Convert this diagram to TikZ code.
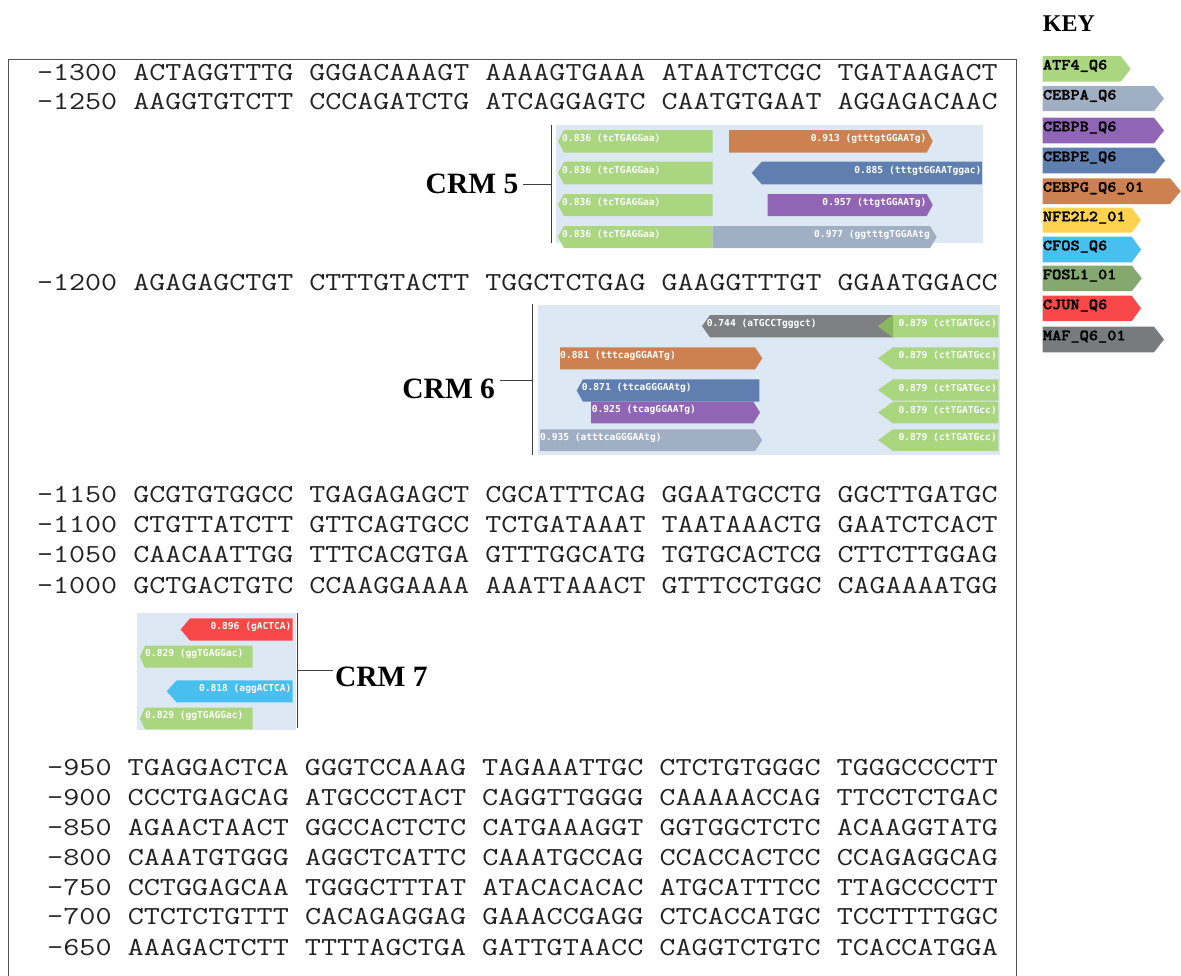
\documentclass[tikz,border=0pt]{standalone}
\usepackage{fontspec}
\usepackage{graphicx}
\newfontfamily\crmfont{Liberation Serif}
\newfontfamily\hitfont{DejaVu Sans Mono}
\newfontfamily\keyfont{lmmonolt10-bold}[Extension=.otf, FakeBold=1.5]

\definecolor{atf}{HTML}{A9D67E}
\definecolor{atfdark}{HTML}{89B75E}
\definecolor{cebpa}{HTML}{A0AFC4}
\definecolor{cebpb}{HTML}{9065B5}
\definecolor{cebpe}{HTML}{5F7FB0}
\definecolor{cebpg}{HTML}{CD8150}
\definecolor{nfe}{HTML}{FFD24F}
\definecolor{cfos}{HTML}{47C0F0}
\definecolor{fosl}{HTML}{84A86F}
\definecolor{cjun}{HTML}{F94848}
\definecolor{maf}{HTML}{7F8084}
\definecolor{crmbg}{HTML}{DDE8F5}
\definecolor{seqcol}{HTML}{222222}
\definecolor{framecol}{HTML}{505050}

% sequence rows (upper blocks and lower block have slightly different pitch)
\newcommand\sqa[1]{\scalebox{1.1956}[1]{\ttfamily\fontsize{26bp}{30bp}\selectfont #1}}
\newcommand\sqb[1]{\scalebox{1.2034}[1]{\ttfamily\fontsize{26bp}{30bp}\selectfont #1}}
% legend labels
\newcommand\keylab[1]{\scalebox{1.13}[1]{\keyfont\fontsize{15.5bp}{18bp}\selectfont #1}}

% site bars: colour, x-left, x-right, y-top, y-bottom, tip depth
\newcommand\rbar[6]{\fill[#1] (#2,#4) -- (#3,#4) -- ({#3+#6},{(#4+#5)/2}) -- (#3,#5) -- (#2,#5) -- cycle;}
\newcommand\lbar[6]{\fill[#1] (#2,#4) -- (#3,#4) -- (#3,#5) -- (#2,#5) -- ({#2-#6},{(#4+#5)/2}) -- cycle;}

\tikzset{
  seq/.style={anchor=base west, inner sep=0pt, text=seqcol},
  hit/.style={inner sep=0pt, text=white, font=\hitfont\bfseries\fontsize{9.6bp}{11bp}\selectfont},
  keytext/.style={anchor=base west, inner sep=0pt, text=black},
  crm/.style={inner sep=0pt, font=\crmfont\bfseries\fontsize{29.5bp}{33bp}\selectfont},
  bracket/.style={draw=black!75, line width=1.3bp},
  tick/.style={draw=black!75, line width=1bp},
}

\begin{document}
\begin{tikzpicture}[x=1bp,y=-1bp]
\useasboundingbox (0,0) rectangle (1181,976);

% outer frame around the sequence
\draw[framecol, line width=1bp] (8,976) -- (8,59) -- (1016.7,59) -- (1016.7,976);

% ---------------- sequence ----------------
\node[seq] (s1300) at (37,80.9)  {\sqa{-1300 ACTAGGTTTG GGGACAAAGT AAAAGTGAAA ATAATCTCGC TGATAAGACT}};
\node[seq] (s1250) at (37,109.9) {\sqa{-1250 AAGGTGTCTT CCCAGATCTG ATCAGGAGTC CAATGTGAAT AGGAGACAAC}};
\node[seq] (s1200) at (37,290.9) {\sqa{-1200 AGAGAGCTGT CTTTGTACTT TGGCTCTGAG GAAGGTTTGT GGAATGGACC}};
\node[seq] (s1150) at (37,502.9) {\sqa{-1150 GCGTGTGGCC TGAGAGAGCT CGCATTTCAG GGAATGCCTG GGCTTGATGC}};
\node[seq] (s1100) at (37,532.9) {\sqa{-1100 CTGTTATCTT GTTCAGTGCC TCTGATAAAT TAATAAACTG GAATCTCACT}};
\node[seq] (s1050) at (37,562.9) {\sqa{-1050 CAACAATTGG TTTCACGTGA GTTTGGCATG TGTGCACTCG CTTCTTGGAG}};
\node[seq] (s1000) at (37,593.9) {\sqa{-1000 GCTGACTGTC CCAAGGAAAA AAATTAAACT GTTTCCTGGC CAGAAAATGG}};

\node[seq] (s950) at (47,775.9) {\sqb{-950 TGAGGACTCA GGGTCCAAAG TAGAAATTGC CTCTGTGGGC TGGGCCCCTT}};
\node[seq] (s900) at (47,805.9) {\sqb{-900 CCCTGAGCAG ATGCCCTACT CAGGTTGGGG CAAAAACCAG TTCCTCTGAC}};
\node[seq] (s850) at (47,835.9) {\sqb{-850 AGAACTAACT GGCCACTCTC CATGAAAGGT GGTGGCTCTC ACAAGGTATG}};
\node[seq] (s800) at (47,865.9) {\sqb{-800 CAAATGTGGG AGGCTCATTC CAAATGCCAG CCACCACTCC CCAGAGGCAG}};
\node[seq] (s750) at (47,895.9) {\sqb{-750 CCTGGAGCAA TGGGCTTTAT ATACACACAC ATGCATTTCC TTAGCCCCTT}};
\node[seq] (s700) at (47,924.9) {\sqb{-700 CTCTCTGTTT CACAGAGGAG GAAACCGAGG CTCACCATGC TCCTTTTGGC}};
\node[seq] (s650) at (47,955.9) {\sqb{-650 AAAGACTCTT TTTTAGCTGA GATTGTAACC CAGGTCTGTC TCACCATGGA}};

% ---------------- CRM 5 ----------------
\fill[crmbg] (556,125) rectangle (983,243);
\lbar{atf}{564}{712.7}{130}{152.7}{6}
\rbar{cebpg}{729}{926.7}{130}{152.7}{6}
\lbar{atf}{564}{712.7}{161.7}{184.3}{6}
\lbar{cebpe}{761.7}{982}{161.7}{184.3}{10}
\lbar{atf}{564}{712.7}{194}{216}{6}
\rbar{cebpb}{767.7}{926.7}{194}{216}{6}
\lbar{atf}{564}{712.7}{226}{248}{6}
\rbar{cebpa}{712.7}{930}{226}{248}{6.7}
\node[hit, anchor=west] (h5a) at (562,138.8) {0.836 (tcTGAGGaa)};
\node[hit, anchor=east] (h5b) at (926.7,138.8) {0.913 (gtttgtGGAATg)};
\node[hit, anchor=west] (h5c) at (562,170.5) {0.836 (tcTGAGGaa)};
\node[hit, anchor=east] (h5d) at (981.7,170.5) {0.885 (tttgtGGAATggac)};
\node[hit, anchor=west] (h5e) at (562,202.5) {0.836 (tcTGAGGaa)};
\node[hit, anchor=east] (h5f) at (926.7,202.5) {0.957 (ttgtGGAATg)};
\node[hit, anchor=west] (h5g) at (562,234.5) {0.836 (tcTGAGGaa)};
\node[hit, anchor=east] (h5h) at (930,234.5) {0.977 (ggtttgTGGAAtg};
\coordinate (b5top) at (551.7,125);
\coordinate (b5bot) at (551.7,243);
\coordinate (b5) at (551.7,184);
\draw[bracket] (b5top) -- (b5bot);
\node[crm, anchor=base east, outer xsep=4.5bp] (crm5) at (522.8,193.5) {CRM 5};
\draw[tick] (crm5.east |- b5) -- (b5);

% ---------------- CRM 6 ----------------
\fill[crmbg] (538,305) rectangle (1000,455);
\lbar{maf}{710}{894}{315}{337.3}{8}
\lbar{atf}{893}{998.3}{315}{337.3}{15}
\fill[atfdark] (878.3,326.15) -- (893,315) -- (893,337.3) -- cycle;
\rbar{cebpg}{560}{755}{347.3}{369.3}{7.3}
\lbar{atf}{893}{998.3}{347.3}{369.3}{15}
\lbar{cebpe}{583}{759.3}{379.3}{401.7}{6.3}
\lbar{atf}{893}{998.3}{379.3}{400.7}{15}
\rbar{cebpb}{591}{753.3}{401.7}{423.3}{6.7}
\lbar{atf}{893}{998.3}{401.7}{423.3}{15}
\rbar{cebpa}{540}{755}{429.3}{451}{7.3}
\lbar{atf}{893}{998.3}{429.3}{451}{15}
\node[hit, anchor=west] (h6a) at (706.7,323.7) {0.744 (aTGCCTgggct)};
\node[hit, anchor=east] (h6b) at (997,323.7) {0.879 (ctTGATGcc)};
\node[hit, anchor=west] (h6c) at (560,355.8) {0.881 (tttcagGGAATg)};
\node[hit, anchor=east] (h6d) at (997,355.8) {0.879 (ctTGATGcc)};
\node[hit, anchor=west] (h6e) at (581.7,388) {0.871 (ttcaGGGAAtg)};
\node[hit, anchor=east] (h6f) at (997,388) {0.879 (ctTGATGcc)};
\node[hit, anchor=west] (h6g) at (591.7,410) {0.925 (tcagGGAATg)};
\node[hit, anchor=east] (h6h) at (997,410) {0.879 (ctTGATGcc)};
\node[hit, anchor=west] (h6i) at (540,437.7) {0.935 (atttcaGGGAAtg)};
\node[hit, anchor=east] (h6j) at (997,437.7) {0.879 (ctTGATGcc)};
\coordinate (b6top) at (532.7,304);
\coordinate (b6bot) at (532.7,455);
\coordinate (b6) at (532.7,380.7);
\draw[bracket] (b6top) -- (b6bot);
\node[crm, anchor=base east, outer xsep=5bp] (crm6) at (500,398.5) {CRM 6};
\draw[tick] (crm6.east |- b6) -- (b6);

% ---------------- CRM 7 ----------------
\fill[crmbg] (136.7,613) rectangle (296,730);
\lbar{cjun}{190}{292.7}{618.3}{640.7}{9.3}
\lbar{atf}{145}{252.7}{645.7}{667.7}{5}
\lbar{cfos}{176.7}{292.7}{680.3}{702.3}{10}
\lbar{atf}{145}{252.7}{707.7}{729.3}{5}
\node[hit, anchor=east] (h7a) at (291.7,627) {0.896 (gACTCA)};
\node[hit, anchor=west] (h7b) at (145,654.2) {0.829 (ggTGAGGac)};
\node[hit, anchor=east] (h7c) at (291.7,688.8) {0.818 (aggACTCA)};
\node[hit, anchor=west] (h7d) at (145,716) {0.829 (ggTGAGGac)};
\coordinate (b7top) at (297.3,613);
\coordinate (b7bot) at (297.3,728);
\coordinate (b7) at (297.3,670);
\draw[bracket] (b7top) -- (b7bot);
\node[crm, anchor=base west, outer xsep=2bp] (crm7) at (333,686) {CRM 7};
\draw[tick] (b7) -- (crm7.west |- b7);

% ---------------- key ----------------
\node[crm, anchor=base west, font=\crmfont\bfseries\fontsize{24bp}{28bp}\selectfont] (keyhead) at (1042.7,31.7) {KEY};
\rbar{atf}{1042.7}{1120.7}{56}{81.7}{10}
\rbar{cebpa}{1042.7}{1154}{86}{111}{10}
\rbar{cebpb}{1042.7}{1154}{117.7}{143.3}{10}
\rbar{cebpe}{1042.7}{1155}{147.7}{173.3}{10}
\rbar{cebpg}{1042.7}{1170}{178.3}{204}{10.7}
\rbar{nfe}{1042.7}{1131.7}{207.7}{232.7}{9.3}
\rbar{cfos}{1042.7}{1131.7}{236.7}{262.3}{9.3}
\rbar{fosl}{1042.7}{1132}{265.7}{291}{9.7}
\rbar{cjun}{1042.7}{1131.7}{295.7}{321}{9.3}
\rbar{maf!95!black}{1042.7}{1154}{326.7}{352.3}{10}
\node[keytext] (k1)  at (1042.7,69.5)  {\keylab{ATF4\_Q6}};
\node[keytext] (k2)  at (1042.7,99.5)  {\keylab{CEBPA\_Q6}};
\node[keytext] (k3)  at (1042.7,131.2) {\keylab{CEBPB\_Q6}};
\node[keytext] (k4)  at (1042.7,161.2) {\keylab{CEBPE\_Q6}};
\node[keytext] (k5)  at (1042.7,191.8) {\keylab{CEBPG\_Q6\_01}};
\node[keytext] (k6)  at (1042.7,221.2) {\keylab{NFE2L2\_01}};
\node[keytext] (k7)  at (1042.7,250.2) {\keylab{CFOS\_Q6}};
\node[keytext] (k8)  at (1042.7,279.2) {\keylab{FOSL1\_01}};
\node[keytext] (k9)  at (1042.7,309.2) {\keylab{CJUN\_Q6}};
\node[keytext] (k10) at (1042.7,340.2) {\keylab{MAF\_Q6\_01}};
\end{tikzpicture}
\end{document}
